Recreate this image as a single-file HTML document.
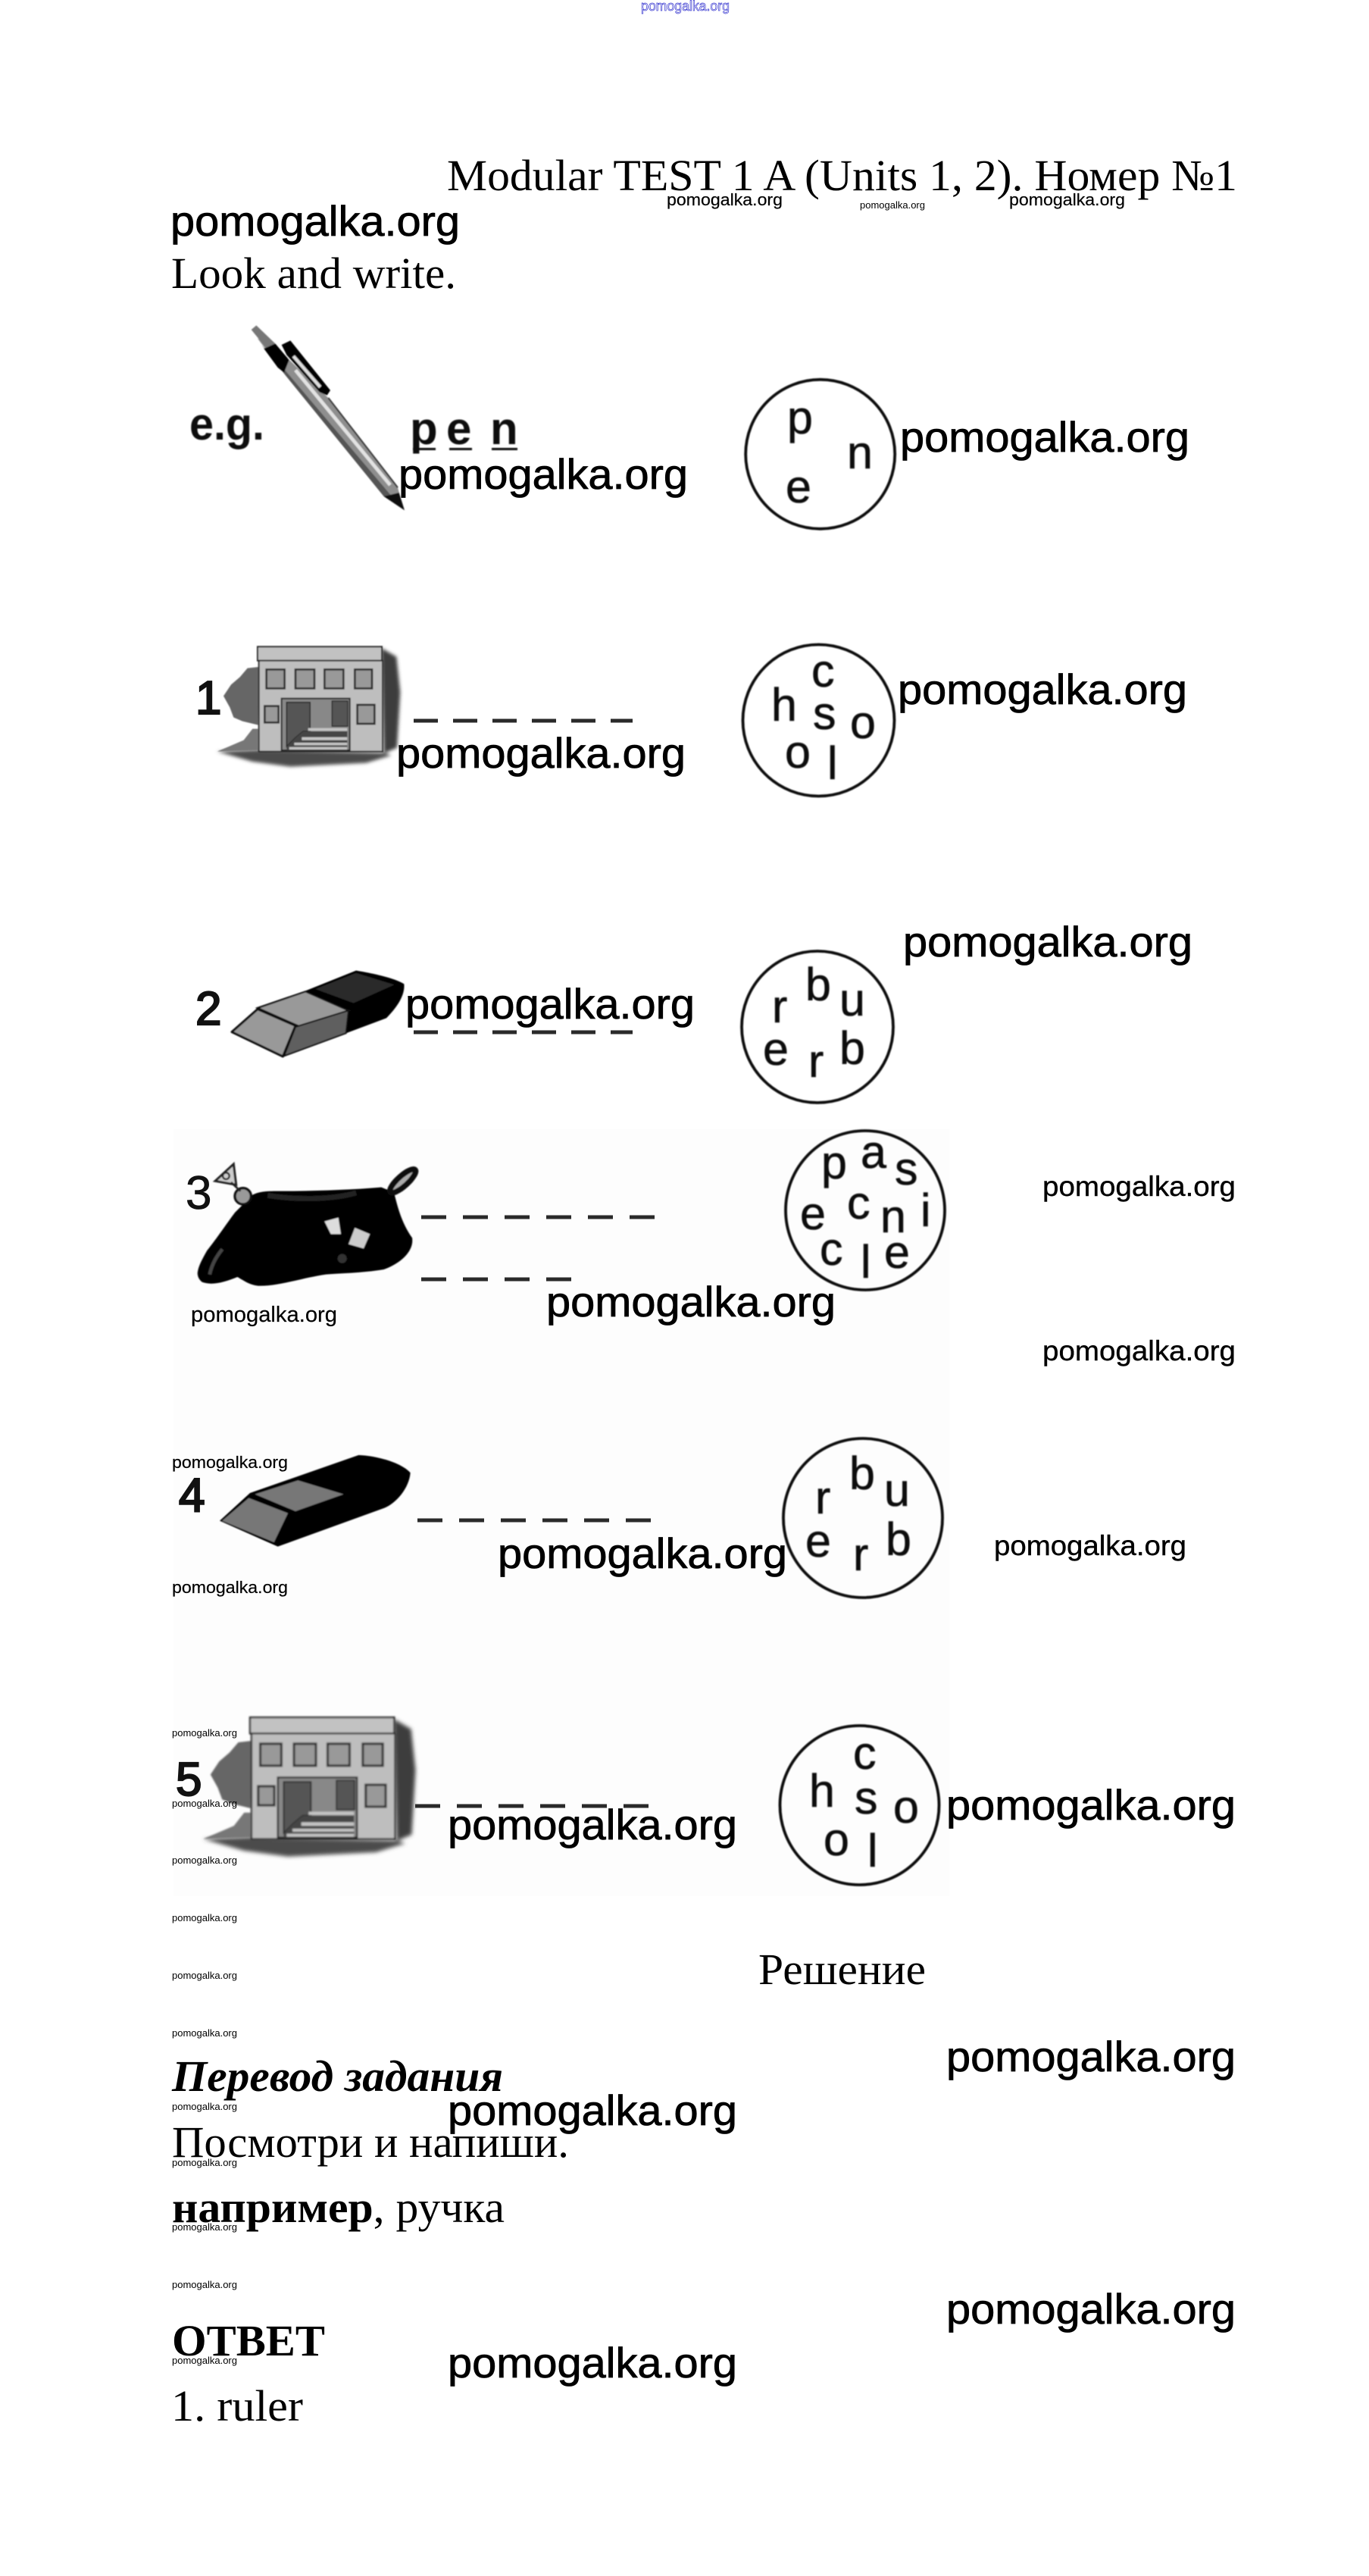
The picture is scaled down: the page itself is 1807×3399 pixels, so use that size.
<!DOCTYPE html>
<html><head><meta charset="utf-8">
<style>
html,body{margin:0;padding:0;background:#fff;width:1807px;height:3399px;overflow:hidden}
svg{position:absolute;left:0;top:0}
.t{font-family:"Liberation Serif","Noto Serif CJK SC",serif;font-size:58px;fill:#000}
.w{font-family:"Liberation Sans",sans-serif;fill:#000}
.big{font-size:56px;stroke:#000;stroke-width:.8}
.m{font-size:37.5px;stroke:#000;stroke-width:.4}
.s{font-size:28.5px;stroke:#000;stroke-width:.2}
.n{font-size:22.5px;stroke:#000;stroke-width:.2}
.x{font-size:12.7px}
.l{font-family:"Liberation Sans",sans-serif;font-size:61px;fill:#111;stroke:#111;stroke-width:.6}
.d{font-family:"Liberation Sans",sans-serif;font-size:62px;fill:#111;stroke:#111;stroke-width:2.2}
.dash{stroke:#2a2a2a;stroke-width:5;stroke-dasharray:32 20;fill:none}
.c{fill:none;stroke:#111;stroke-width:3.8}
</style></head><body>
<svg xmlns="http://www.w3.org/2000/svg" width="1807" height="3399" viewBox="0 0 1807 3399">
<defs>
<filter id="b1"><feGaussianBlur stdDeviation="2.5"/></filter>
<filter id="b2" x="-30%" y="-30%" width="160%" height="160%"><feGaussianBlur stdDeviation="7"/></filter>
<filter id="b0"><feGaussianBlur stdDeviation=".7"/></filter>
<g id="school">
 <g filter="url(#b2)">
  <polygon points="760,75 820,110 835,250 822,470 770,492" fill="#3c3c3c"/>
  <polygon points="110,485 270,478 770,490 800,500 700,530 400,545 250,525" fill="#4c4c4c"/>
 </g>
 <g filter="url(#b1)">
  <path d="M275,150 L230,155 L200,190 L165,220 L135,265 L160,310 L175,350 L210,365 L272,380Z" fill="#666"/>
  <polygon points="250,395 215,440 110,485 272,480 272,395" fill="#777"/>
  <rect x="270" y="70" width="492" height="55" fill="#c2c2c2" stroke="#222" stroke-width="6"/>
  <rect x="275" y="125" width="490" height="360" fill="#bebebe" stroke="#2a2a2a" stroke-width="6"/>
  <g fill="#999" stroke="#2f2f2f" stroke-width="8">
   <rect x="305" y="160" width="72" height="75"/><rect x="420" y="160" width="75" height="75"/>
   <rect x="535" y="160" width="75" height="75"/><rect x="655" y="160" width="68" height="75"/>
   <rect x="298" y="305" width="55" height="65"/><rect x="665" y="300" width="68" height="75"/>
  </g>
  <rect x="365" y="275" width="270" height="205" fill="#888" stroke="#222" stroke-width="6"/>
  <rect x="480" y="295" width="85" height="95" fill="#888"/>
  <rect x="565" y="285" width="62" height="100" fill="#555" stroke="#222" stroke-width="4"/>
  <polygon points="385,290 478,290 478,405 450,405 420,430 385,465" fill="#555" stroke="#111" stroke-width="4"/>
  <polygon points="460,405 625,405 625,480 385,480 385,465 420,430 450,405" fill="#444"/>
  <g fill="#c4c4c4"><rect x="470" y="392" width="155" height="11"/><rect x="445" y="428" width="180" height="12"/><rect x="415" y="450" width="210" height="10"/><rect x="395" y="467" width="230" height="10"/></g>
 </g>
</g>
</defs>
<rect width="1807" height="3399" fill="#fff"/>
<rect x="229" y="1490" width="1024" height="1012" fill="#fdfdfd"/>

<!-- top watermark -->
<text x="846" y="14" class="w" font-size="18" stroke="#3a3ad0" stroke-width=".7" textLength="117" lengthAdjust="spacingAndGlyphs" style="fill:#fff">pomogalka.org</text>

<!-- texts -->
<text x="590" y="251" class="t" textLength="1043" lengthAdjust="spacingAndGlyphs">Modular TEST 1 A (Units 1, 2). Номер №1</text>
<text x="226" y="380" class="t" textLength="376" lengthAdjust="spacingAndGlyphs">Look and write.</text>
<text x="1001" y="2618" class="t" textLength="221" lengthAdjust="spacingAndGlyphs">Решение</text>
<text x="227" y="2759" class="t" font-weight="bold" font-style="italic" textLength="437" lengthAdjust="spacingAndGlyphs">Перевод задания</text>
<text x="227" y="2846" class="t" textLength="524" lengthAdjust="spacingAndGlyphs">Посмотри и напиши.</text>
<text x="227" y="2932" class="t" textLength="439" lengthAdjust="spacingAndGlyphs"><tspan font-weight="bold">например</tspan>, ручка</text>
<text x="227" y="3108" class="t" font-weight="bold" textLength="202" lengthAdjust="spacingAndGlyphs">ОТВЕТ</text>
<text x="226" y="3194" class="t" textLength="174" lengthAdjust="spacingAndGlyphs">1. ruler</text>

<!-- pen -->
<g transform="translate(230 410) scale(.33333)" filter="url(#b1)">
 <polygon points="330,110 400,140 610,345 885,700 908,785 830,735 440,255" fill="#8e8e8e"/>
 <polygon points="345,135 430,225 870,745 830,735 440,255" fill="#555"/>
 <line x1="480" y1="235" x2="855" y2="690" stroke="#e2e2e2" stroke-width="14"/>
 <line x1="610" y1="345" x2="885" y2="700" stroke="#333" stroke-width="6"/>
 <polygon points="305,75 325,58 400,130 370,155" fill="#777"/>
 <polygon points="355,150 400,130 455,195 435,245 410,225" fill="#000"/>
 <path d="M425,135 L460,118 L618,315 L605,335 L575,322 L445,175Z" fill="#050505"/>
 <line x1="472" y1="180" x2="578" y2="302" stroke="#ddd" stroke-width="13"/>
 <polygon points="830,735 890,720 912,790" fill="#111"/>
</g>
<text x="250" y="580" font-family="Liberation Sans" font-weight="bold" font-size="60" fill="#111" textLength="99" lengthAdjust="spacingAndGlyphs" filter="url(#b0)">e.g.</text>
<g filter="url(#b0)" fill="#111" font-family="Liberation Sans" font-weight="bold" font-size="60">
 <text x="541" y="586">p</text><text x="589" y="586">e</text><text x="647" y="586">n</text>
 <path d="M545,591h30v3h-30zM593,591h30v3h-30zM649,591h34v3h-34z"/>
</g>
<g filter="url(#b0)">
 <circle class="c" cx="1082.7" cy="599.3" r="98.5"/>
 <text class="l" x="1039" y="572">p</text><text class="l" x="1118" y="618">n</text><text class="l" x="1037" y="663">e</text>
</g>

<!-- row 1 -->
<use href="#school" transform="translate(250 830) scale(.33333)"/>
<text class="d" x="258" y="942">1</text>
<line class="dash" x1="546" y1="951" x2="835" y2="951"/>
<g filter="url(#b0)">
 <circle class="c" cx="1080.5" cy="950.5" r="100"/>
 <text class="l" x="1071" y="906">c</text><text class="l" x="1018" y="951">h</text><text class="l" x="1073" y="962">s</text>
 <text class="l" x="1122" y="974">o</text><text class="l" x="1036" y="1013">o</text><text class="l" x="1092" y="1028">l</text>
</g>

<!-- row 2 -->
<g transform="translate(240 1260) scale(.33333)" filter="url(#b1)">
 <path d="M470,150 L690,62 C740,70 840,90 880,115 C885,160 850,210 810,250 L650,310 L640,220Z" fill="#050505"/>
 <polygon points="530,135 690,72 840,118 680,190" fill="#2c2c2c"/>
 <polygon points="300,210 490,145 660,220 470,285" fill="#999" stroke="#111" stroke-width="7"/>
 <polygon points="450,285 660,220 650,310 405,400" fill="#5e5e5e" stroke="#111" stroke-width="6"/>
 <polygon points="198,305 300,215 450,280 400,402" fill="#999" stroke="#111" stroke-width="9" stroke-linejoin="round"/>
</g>
<text class="d" x="258" y="1352">2</text>
<line class="dash" x1="546" y1="1362" x2="835" y2="1362"/>
<g filter="url(#b0)">
 <circle class="c" cx="1079" cy="1355" r="100"/>
 <text class="l" x="1063" y="1320">b</text><text class="l" x="1108" y="1340">u</text><text class="l" x="1019" y="1349">r</text>
 <text class="l" x="1007" y="1405">e</text><text class="l" x="1067" y="1421">r</text><text class="l" x="1108" y="1404">b</text>
</g>

<!-- row 3 -->
<g transform="translate(230 1500) scale(.33333)" filter="url(#b1)">
 <path d="M310,230 C340,215 370,215 420,215 C560,215 700,210 820,200 L870,220 C885,280 900,340 942,400 C950,450 900,500 830,525 C740,540 650,540 600,545 C500,560 420,590 340,590 C300,590 270,565 250,555 C200,575 150,590 110,575 C80,550 90,520 130,450 C170,400 210,340 240,300Z" fill="#030303"/>
 <path d="M370,232 C480,250 620,250 720,222" fill="none" stroke="#222" stroke-width="20"/>
 <ellipse cx="905" cy="175" rx="66" ry="20" transform="rotate(-42 905 175)" fill="#aaa" stroke="#0a0a0a" stroke-width="22"/>
 <circle cx="272" cy="235" r="32" fill="#999" stroke="#111" stroke-width="10"/>
 <polygon points="162,175 235,108 245,190" fill="#ccc" stroke="#222" stroke-width="9"/>
 <circle cx="205" cy="155" r="13" fill="none" stroke="#222" stroke-width="7"/>
 <line x1="225" y1="180" x2="262" y2="215" stroke="#222" stroke-width="8"/>
 <polygon points="595,335 650,320 660,385 620,385" fill="#ddd"/>
 <polygon points="715,360 775,385 750,442 690,425" fill="#ccc"/>
 <path d="M140,545 C150,500 170,470 190,445" fill="none" stroke="#444" stroke-width="14"/>
 <circle cx="665" cy="482" r="18" fill="#333"/>
</g>
<text class="d" x="245" y="1595" style="stroke-width:.8">3</text>
<line class="dash" x1="556" y1="1606" x2="865" y2="1606" style="stroke-dasharray:33 22"/>
<line class="dash" x1="556" y1="1688" x2="756" y2="1688" style="stroke-dasharray:33 22"/>
<g filter="url(#b0)">
 <circle class="c" cx="1142" cy="1597" r="105"/>
 <text class="l" x="1084" y="1555">p</text><text class="l" x="1136" y="1541">a</text><text class="l" x="1181" y="1563">s</text>
 <text class="l" x="1056" y="1622">e</text><text class="l" x="1118" y="1608">c</text><text class="l" x="1162" y="1626">n</text>
 <text class="l" x="1215" y="1618">i</text><text class="l" x="1082" y="1669">c</text><text class="l" x="1136" y="1686">l</text><text class="l" x="1167" y="1673">e</text>
</g>

<!-- row 4 -->
<g transform="translate(230 1900) scale(.33333)" filter="url(#b1)">
 <path d="M300,210 L730,60 C800,62 900,90 935,130 C930,190 880,250 830,270 L410,422 L180,320Z" fill="#040404"/>
 <polygon points="320,215 490,160 670,215 480,282" fill="#777"/>
 <polygon points="190,320 295,230 450,290 395,405" fill="#777"/>
</g>
<text class="d" x="236" y="1994" style="stroke-width:2.5">4</text>
<line class="dash" x1="551" y1="2006" x2="859" y2="2006" style="stroke-dasharray:33 22"/>
<g filter="url(#b0)">
 <circle class="c" cx="1139" cy="2003" r="105"/>
 <text class="l" x="1121" y="1965">b</text><text class="l" x="1167" y="1987">u</text><text class="l" x="1076" y="1997">r</text>
 <text class="l" x="1063" y="2054">e</text><text class="l" x="1126" y="2072">r</text><text class="l" x="1169" y="2052">b</text>
</g>

<!-- row 5 -->
<use href="#school" transform="translate(225.6 2239) scale(.3867)"/>
<text class="d" x="232" y="2369">5</text>
<line class="dash" x1="548" y1="2383" x2="856" y2="2383" style="stroke-dasharray:33 22"/>
<g filter="url(#b0)">
 <circle class="c" cx="1134.5" cy="2382" r="105"/>
 <text class="l" x="1126" y="2334">c</text><text class="l" x="1068" y="2384">h</text><text class="l" x="1128" y="2393">s</text>
 <text class="l" x="1179" y="2405">o</text><text class="l" x="1087" y="2448">o</text><text class="l" x="1145" y="2463">l</text>
</g>

<!-- watermarks -->
<g>
<text class="w big" x="225" y="311" textLength="382" lengthAdjust="spacingAndGlyphs">pomogalka.org</text>
<text class="w big" x="526" y="645" textLength="382" lengthAdjust="spacingAndGlyphs">pomogalka.org</text>
<text class="w big" x="1188" y="596" textLength="382" lengthAdjust="spacingAndGlyphs">pomogalka.org</text>
<text class="w big" x="523" y="1013" textLength="382" lengthAdjust="spacingAndGlyphs">pomogalka.org</text>
<text class="w big" x="1185" y="929" textLength="382" lengthAdjust="spacingAndGlyphs">pomogalka.org</text>
<text class="w big" x="1192" y="1262" textLength="382" lengthAdjust="spacingAndGlyphs">pomogalka.org</text>
<text class="w big" x="535" y="1344" textLength="382" lengthAdjust="spacingAndGlyphs">pomogalka.org</text>
<text class="w big" x="721" y="1737" textLength="382" lengthAdjust="spacingAndGlyphs">pomogalka.org</text>
<text class="w big" x="657" y="2069" textLength="382" lengthAdjust="spacingAndGlyphs">pomogalka.org</text>
<text class="w big" x="591" y="2427" textLength="382" lengthAdjust="spacingAndGlyphs">pomogalka.org</text>
<text class="w big" x="1249" y="2401" textLength="382" lengthAdjust="spacingAndGlyphs">pomogalka.org</text>
<text class="w big" x="1249" y="2733" textLength="382" lengthAdjust="spacingAndGlyphs">pomogalka.org</text>
<text class="w big" x="591" y="2804" textLength="382" lengthAdjust="spacingAndGlyphs">pomogalka.org</text>
<text class="w big" x="1249" y="3066" textLength="382" lengthAdjust="spacingAndGlyphs">pomogalka.org</text>
<text class="w big" x="591" y="3137" textLength="382" lengthAdjust="spacingAndGlyphs">pomogalka.org</text>
<text class="w m" x="1376" y="1578" textLength="255" lengthAdjust="spacingAndGlyphs">pomogalka.org</text>
<text class="w m" x="1376" y="1795" textLength="255" lengthAdjust="spacingAndGlyphs">pomogalka.org</text>
<text class="w m" x="1312" y="2052" textLength="254" lengthAdjust="spacingAndGlyphs">pomogalka.org</text>
<text class="w s" x="252" y="1744" textLength="193" lengthAdjust="spacingAndGlyphs">pomogalka.org</text>
<text class="w n" x="880" y="271" textLength="153" lengthAdjust="spacingAndGlyphs">pomogalka.org</text>
<text class="w n" x="1332" y="271" textLength="153" lengthAdjust="spacingAndGlyphs">pomogalka.org</text>
<text class="w n" x="227" y="1937" textLength="153" lengthAdjust="spacingAndGlyphs">pomogalka.org</text>
<text class="w n" x="227" y="2102" textLength="153" lengthAdjust="spacingAndGlyphs">pomogalka.org</text>
<text class="w x" x="1135" y="275" textLength="86" lengthAdjust="spacingAndGlyphs">pomogalka.org</text>
<text class="w x" x="227" y="2291" textLength="86" lengthAdjust="spacingAndGlyphs">pomogalka.org</text>
<text class="w x" x="227" y="2384" textLength="86" lengthAdjust="spacingAndGlyphs">pomogalka.org</text>
<text class="w x" x="227" y="2459" textLength="86" lengthAdjust="spacingAndGlyphs">pomogalka.org</text>
<text class="w x" x="227" y="2535" textLength="86" lengthAdjust="spacingAndGlyphs">pomogalka.org</text>
<text class="w x" x="227" y="2611" textLength="86" lengthAdjust="spacingAndGlyphs">pomogalka.org</text>
<text class="w x" x="227" y="2687" textLength="86" lengthAdjust="spacingAndGlyphs">pomogalka.org</text>
<text class="w x" x="227" y="2784" textLength="86" lengthAdjust="spacingAndGlyphs">pomogalka.org</text>
<text class="w x" x="227" y="2858" textLength="86" lengthAdjust="spacingAndGlyphs">pomogalka.org</text>
<text class="w x" x="227" y="2943" textLength="86" lengthAdjust="spacingAndGlyphs">pomogalka.org</text>
<text class="w x" x="227" y="3019" textLength="86" lengthAdjust="spacingAndGlyphs">pomogalka.org</text>
<text class="w x" x="227" y="3119" textLength="86" lengthAdjust="spacingAndGlyphs">pomogalka.org</text>
</g>
</svg>
</body></html>
